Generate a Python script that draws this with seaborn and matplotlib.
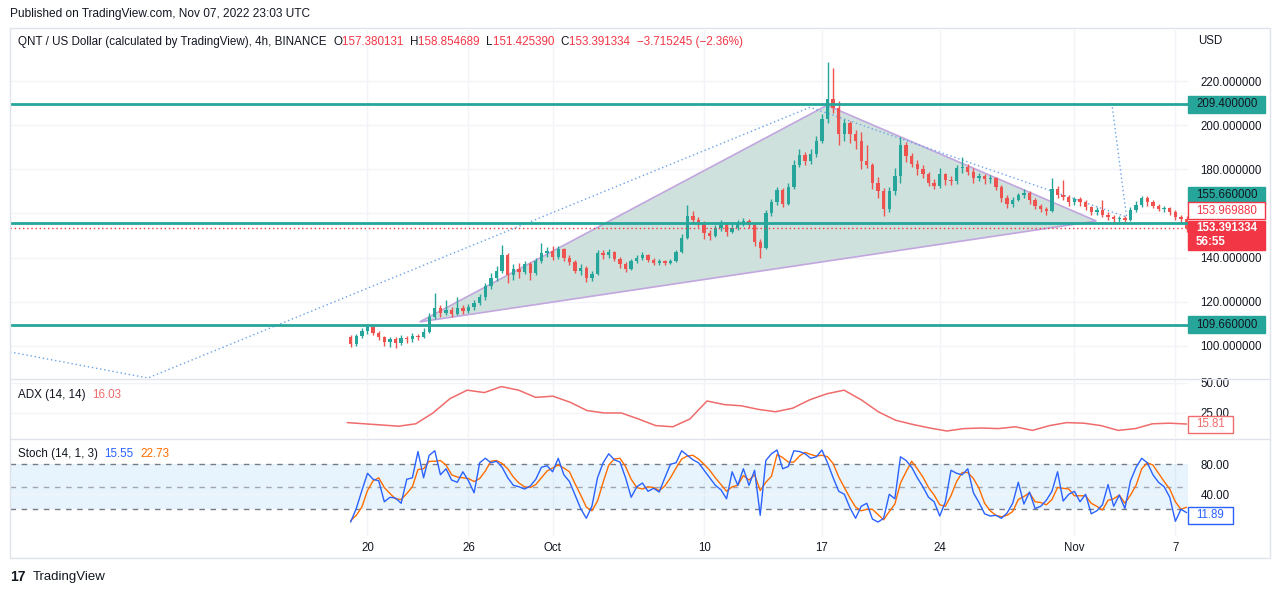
import matplotlib
matplotlib.use("Agg")
import matplotlib.pyplot as plt
from matplotlib.patches import Rectangle, Polygon
import seaborn as sns
import numpy as np
import pandas as pd

# ---- chart data: QNT/USD, 8h candles from Sep 19 to Nov 7 2022 ----
first_open = 104.0
closes = [
    101, 104.5, 107, 108.5, 106, 104, 102, 103, 101.5, 103.5,
    103, 104.5, 104, 106.5, 113, 117, 115, 116.5, 114.5, 117,
    116, 117.5, 119.5, 122, 127, 131, 134, 141, 132, 135,
    133.5, 137, 133, 138.5, 142, 143, 140.5, 144, 140, 138,
    134, 135.5, 131, 132.5, 142, 141, 142.5, 139.5, 137, 135,
    138.5, 140, 141, 139, 137.5, 138.5, 137.5, 138.5, 142.5, 149,
    159, 157, 155.5, 151, 150, 153.5, 155, 151.5, 153.5, 155.5,
    156.5, 155, 147, 144.5, 160, 165, 170.5, 164.5, 172, 182,
    186.5, 184, 187, 193, 203, 212, 208, 196, 201, 196,
    193, 184, 182, 174, 170, 162, 170, 177, 191, 186,
    182.5, 180, 178, 174, 172.5, 178, 175, 174.5, 180.5, 181,
    179, 176, 177, 175.5, 176, 172, 167, 164.5, 166, 168.5,
    169.5, 166, 163.5, 162, 161, 171, 168.5, 167.5, 165, 166.5,
    165, 163, 160.5, 161.5, 159.5, 158.5, 157.5, 158, 157, 161.5,
    164, 167, 165, 163.5, 162, 162.5, 160.5, 158.5, 157.380131, 153.391334,
]
highs = [
    105, 105.5, 108, 110, 109.5, 107, 104.5, 104, 104, 105,
    104.5, 106, 105.5, 108, 115, 124, 118.5, 121, 117.5, 122,
    118.5, 119, 121, 123.5, 128.5, 133, 136, 145.7, 142, 137,
    137.5, 138.5, 138, 140, 146.6, 145, 145.5, 145.5, 144.5, 141,
    139, 137, 136, 134, 143.5, 143.5, 144, 143, 140.5, 138,
    139.5, 141, 142.5, 141.5, 140, 139.5, 139, 139.5, 143.5, 150.5,
    164, 161, 158.5, 156.5, 152.5, 155, 157, 155.5, 156, 157,
    158, 157.5, 156, 148.5, 161.5, 166.5, 172, 171.5, 174, 184,
    189, 188, 189, 195, 205, 228.5, 226, 211, 203, 202,
    198, 197, 191, 183, 176.5, 171.5, 172, 180.5, 194.5, 192.5,
    187.5, 184, 182, 179, 175.5, 180.5, 178.5, 177, 182, 185.5,
    182.5, 180.5, 178.5, 178, 177.5, 176.5, 173, 168.5, 167.5, 169.5,
    171, 170, 167, 164.5, 163, 176, 172.5, 175, 168.5, 167.5,
    167.5, 166, 163.5, 163, 166, 160.5, 159.5, 159, 159, 163,
    165.5, 168, 167.8, 166, 164.5, 163.5, 163, 161.5, 159.5, 158.854689,
]
lows = [
    99.5, 100, 103.5, 105.5, 105, 102.5, 100, 99.5, 99, 100.5,
    101.5, 102, 102.5, 103.5, 106, 112, 113, 114, 113, 114,
    114.5, 115, 116.5, 118.5, 121, 126, 129.5, 133, 128.5, 130,
    131, 132.5, 130, 132, 137.5, 140.5, 139, 139.5, 138.5, 136.5,
    133, 132, 129, 129.5, 132, 139.5, 140, 138.5, 135.5, 133.5,
    134.5, 137.5, 139, 138, 136.5, 136.5, 136.5, 137, 138, 142,
    148.5, 155.5, 154, 148.5, 148, 149.5, 152, 150, 151, 152.5,
    154.5, 153.5, 145.5, 139.8, 144, 159, 164, 163, 164, 171,
    181, 182, 182.5, 185.5, 192, 201, 205.5, 191, 193, 192,
    189, 180, 180.5, 171, 167, 159, 160.5, 168.5, 174, 183.5,
    181, 177.5, 176, 172.5, 171, 171.5, 173, 173, 173.5, 178.5,
    177.5, 174, 174.5, 173.5, 174, 170.5, 165, 162.5, 163, 165.5,
    167, 164.5, 162, 160.5, 159.5, 160.5, 167, 166, 163.5, 164,
    163.5, 161.5, 159.5, 159.5, 158.5, 157, 155.8, 156, 155.7, 156.5,
    160.5, 163, 163.5, 162.5, 161, 160.5, 159.5, 157, 155.5, 151.425390,
]

# ADX (14, 14), one reading per day
adx_values = [
    17, 16, 15, 14, 16, 25, 37, 44, 42, 47,
    44, 38, 39, 34, 27, 25, 25, 20, 14.5, 13.5,
    20, 35, 32, 31, 28, 26, 29, 36, 41, 44,
    36, 26, 19, 15.5, 12.5, 10, 12, 12.5, 12, 13.5,
    10.5, 14.5, 17, 16.5, 14.5, 10.5, 12, 16, 16.5, 15.81,
]

# Stoch (14, 1, 3), one reading per candle
stoch_k = [
    3, 21, 45, 68, 60, 58, 30, 36, 35, 28,
    60, 62, 97, 62, 92, 98, 66, 74, 59, 56,
    70, 58, 42, 82, 88, 82, 84, 76, 62, 52,
    50, 47, 51, 60, 76, 78, 70, 88, 66, 57,
    39, 21, 8, 24, 62, 82, 94, 86, 83, 62,
    36, 50, 55, 44, 48, 43, 62, 80, 82, 98,
    92, 86, 82, 72, 62, 52, 46, 34, 70, 52,
    74, 52, 72, 12, 85, 94, 99, 74, 77, 98,
    97, 94, 88, 90, 99, 82, 62, 44, 40, 22,
    8, 24, 28, 7, 3, 8, 40, 34, 90, 85,
    76, 62, 50, 36, 30, 11, 30, 72, 68, 66,
    74, 42, 29, 14, 11, 12, 8, 15, 28, 56,
    27, 43, 21, 24, 32, 44, 70, 31, 40, 44,
    30, 40, 14, 18, 26, 53, 24, 39, 21, 58,
    76, 88, 82, 66, 56, 50, 36, 4, 20, 15.55,
]
stoch_d = [
    5, 12, 23, 45, 58, 62, 49, 41, 34, 33,
    41, 50, 73, 74, 84, 84, 85, 79, 66, 63,
    62, 61, 57, 61, 71, 84, 85, 81, 74, 63,
    55, 50, 49, 53, 62, 71, 75, 79, 75, 70,
    54, 39, 23, 18, 31, 56, 79, 87, 88, 77,
    60, 49, 47, 50, 49, 45, 51, 62, 75, 87,
    91, 92, 87, 80, 72, 62, 53, 44, 50, 52,
    65, 59, 66, 45, 56, 64, 93, 89, 83, 83,
    91, 96, 93, 91, 92, 90, 81, 63, 49, 35,
    23, 18, 20, 20, 13, 6, 17, 27, 55, 70,
    84, 74, 63, 49, 39, 26, 24, 38, 57, 69,
    69, 61, 48, 28, 18, 12, 10, 12, 17, 33,
    37, 42, 30, 29, 26, 33, 49, 48, 47, 38,
    38, 38, 28, 24, 19, 32, 34, 39, 28, 39,
    52, 74, 82, 79, 68, 57, 47, 30, 20, 22.73,
]

# axis labels (x in days from Sep 19)
date_ticks = [1, 7, 12, 21, 28, 35, 43, 49]
date_labels = ["20", "26", "Oct", "10", "17", "24", "Nov", "7"]
price_ticks = [100, 120, 140, 180, 200, 220]
grid_prices = [100, 120, 140, 160, 180, 200, 220]

# drawings on the chart
level_prices = [209.4, 155.66, 109.66]
last_close = 153.391334
triangle_days = [4.1, 28.3, 44.3]
triangle_prices = [110.9, 209.0, 156.6]
pattern_days = [-20.24, -12.05, 27.3, 46.1, 45.2]
pattern_prices = [97.3, 85.5, 208.1, 158.4, 211.3]

# ---- style ----
UP, DOWN = "#26a69a", "#ef5350"
TEAL = "#26a69a"
RED = "#f23645"
TXT = "#131722"
GRID = "#f2f4f9"
SEP = "#e0e3eb"
ADX_C = "#f06b6b"
K_C, D_C = "#2962ff", "#ff6d00"

sns.set_theme(style="white")
plt.rcParams["font.family"] = ["Liberation Sans", "DejaVu Sans"]

W, H = 1280, 595


def fx(px):
    return px / W


def fy(py):
    return 1 - py / H


fig = plt.figure(figsize=(W / 100, H / 100), dpi=100)
fig.patch.set_facecolor("white")

L, R = 10, 1188
ax = fig.add_axes([fx(L), fy(378), fx(R) - fx(L), fy(30) - fy(378)])
ax_adx = fig.add_axes([fx(L), fy(438), fx(R) - fx(L), fy(379) - fy(438)])
ax_st = fig.add_axes([fx(L), fy(536), fx(R) - fx(L), fy(439) - fy(536)])

xlim = (-20.24, 49.75)
for a in (ax, ax_adx, ax_st):
    a.set_facecolor("white")
    a.set_xlim(*xlim)
    for s in a.spines.values():
        s.set_visible(False)
    for d in date_ticks:
        a.axvline(d, color=GRID, lw=1, zorder=0)
    a.yaxis.tick_right()
    a.tick_params(axis="both", length=0, labelsize=8.3, colors=TXT)
    a.set_xticks([])

ax.set_ylim(85.5, 243.1)
ax_adx.set_ylim(4.17, 53.3)
ax_st.set_ylim(-15.6, 113.7)

# ---- main price panel ----
for p in grid_prices:
    ax.axhline(p, color=GRID, lw=1, zorder=0)

tri = Polygon(list(zip(triangle_days, triangle_prices)), closed=True,
              facecolor="#cfe1dc", edgecolor="#c2a6de", lw=1.2, zorder=1)
ax.add_patch(tri)

ax.plot(pattern_days, pattern_prices, color="#6aa3e6", lw=1,
        linestyle=(0, (1, 2)), zorder=2)

n = len(closes)
df = pd.DataFrame({
    "t": np.arange(n) / 3.0,
    "open": [first_open] + closes[:-1],
    "high": highs,
    "low": lows,
    "close": closes,
})
up = df["close"] >= df["open"]
colors = np.where(up, UP, DOWN)
ax.vlines(df["t"], df["low"], df["high"], colors=colors, lw=1, zorder=3)
body_low = df[["open", "close"]].min(axis=1)
body_h = (df["close"] - df["open"]).abs().clip(lower=0.4)
ax.bar(df["t"], body_h, bottom=body_low, width=0.2, color=colors, lw=0, zorder=4)

for p in level_prices:
    ax.axhline(p, color=TEAL, lw=2, zorder=5)
ax.axhline(last_close, color=RED, lw=1, linestyle=(0, (1, 2)), zorder=5)

ax.set_yticks(price_ticks, labels=[f"{p:.6f}" for p in price_ticks])
ax.tick_params(axis="y", pad=9)

# ---- ADX panel ----
for p in (25, 50):
    ax_adx.axhline(p, color=GRID, lw=1, zorder=0)
adx_df = pd.DataFrame({"t": np.linspace(-0.2, 49.67, len(adx_values)),
                       "adx": adx_values})
sns.lineplot(data=adx_df, x="t", y="adx", ax=ax_adx, color=ADX_C, lw=1.1)
ax_adx.set_yticks([25, 50], labels=["25.00", "50.00"])
ax_adx.tick_params(axis="y", pad=9)
ax_adx.set_xlabel("")
ax_adx.set_ylabel("")
ax_adx.set_xticks([])

# ---- Stoch panel ----
ax_st.axhspan(20, 80, color="#2196f3", alpha=0.1, lw=0, zorder=0)
ax_st.axhline(40, color=GRID, lw=1, zorder=0)
for lvl, col in ((80, "#787b86"), (50, "#a3a6af"), (20, "#787b86")):
    ax_st.axhline(lvl, color=col, lw=1, linestyle=(0, (4, 4)), zorder=1)
st_df = pd.DataFrame({"t": df["t"], "k": stoch_k, "d": stoch_d})
sns.lineplot(data=st_df, x="t", y="k", ax=ax_st, color=K_C, lw=1, zorder=3)
sns.lineplot(data=st_df, x="t", y="d", ax=ax_st, color=D_C, lw=1, zorder=2)
ax_st.set_yticks([40, 80], labels=["40.00", "80.00"])
ax_st.tick_params(axis="y", pad=9)
ax_st.set_xticks(date_ticks, labels=date_labels)
ax_st.tick_params(axis="x", pad=4)
ax_st.set_xlabel("")
ax_st.set_ylabel("")

# ---- frame and separators ----
fig.add_artist(Rectangle((fx(10), fy(558)), fx(1270) - fx(10), fy(28) - fy(558),
                         transform=fig.transFigure, fill=False, edgecolor=SEP, lw=1))
for yy in (378.5, 438.5):
    fig.add_artist(plt.Line2D([fx(10), fx(1270)], [fy(yy), fy(yy)],
                              transform=fig.transFigure, color=SEP, lw=1))


# ---- price tags on the right scale ----
def tag(axis, value, lines, face, edge, color, dy=0, h=17, right=1265, bold=False):
    y_disp = axis.transData.transform((0, value))[1]
    y_pix = H - y_disp + dy
    fig.add_artist(Rectangle((fx(1188), fy(y_pix + h / 2)), fx(right) - fx(1188), h / H,
                             transform=fig.transFigure, facecolor=face,
                             edgecolor=edge, lw=1, zorder=10))
    step = 14
    top = y_pix - step * (len(lines) - 1) / 2
    for j, s in enumerate(lines):
        fig.text(fx(1196), fy(top + j * step), s, color=color, fontsize=8.3,
                 va="center", ha="left", zorder=11,
                 fontweight="bold" if bold else "normal")


tag(ax, 209.4, ["209.400000"], TEAL, TEAL, TXT)
tag(ax, 155.66, ["155.660000"], TEAL, TEAL, TXT, dy=-28)
tag(ax, 153.969880, ["153.969880"], "white", RED, RED, dy=-16)
tag(ax, last_close, ["153.391334", "56:55"], RED, RED, "white", dy=7, h=29, bold=True)
tag(ax, 109.66, ["109.660000"], TEAL, TEAL, TXT)
tag(ax_adx, adx_values[-1], ["15.81"], "white", ADX_C, ADX_C, right=1233)
tag(ax_st, 11.89, ["11.89"], "white", K_C, K_C, right=1233)

fig.text(fx(1198), fy(41), "USD", color=TXT, fontsize=8.3, va="center")

# ---- legends and captions ----
renderer = fig.canvas.get_renderer()


def chain(x_px, y_px, parts, size=8.4):
    x = x_px
    for s, c in parts:
        t = fig.text(fx(x), fy(y_px), s, color=c, fontsize=size, va="center", ha="left")
        x += t.get_window_extent(renderer=renderer).width


fig.text(fx(10), fy(14), "Published on TradingView.com, Nov 07, 2022 23:03 UTC",
         color=TXT, fontsize=8.6, va="center")
chain(18, 42, [
    ("QNT / US Dollar (calculated by TradingView), 4h, BINANCE  ", TXT),
    ("O", TXT), ("157.380131  ", RED),
    ("H", TXT), ("158.854689  ", RED),
    ("L", TXT), ("151.425390  ", RED),
    ("C", TXT), ("153.391334  ", RED),
    ("\u22123.715245 (\u22122.36%)", RED),
])
chain(18, 395, [("ADX (14, 14)  ", TXT), ("16.03", ADX_C)])
chain(18, 454, [("Stoch (14, 1, 3)  ", TXT), ("15.55", K_C), ("  ", TXT), ("22.73", D_C)])

fig.text(fx(10), fy(577), "17", color=TXT, fontsize=10, fontweight="heavy", va="center")
fig.text(fx(33), fy(577), "TradingView", color=TXT, fontsize=9.5, va="center")

fig.savefig("out.png", dpi=100, facecolor="white")
